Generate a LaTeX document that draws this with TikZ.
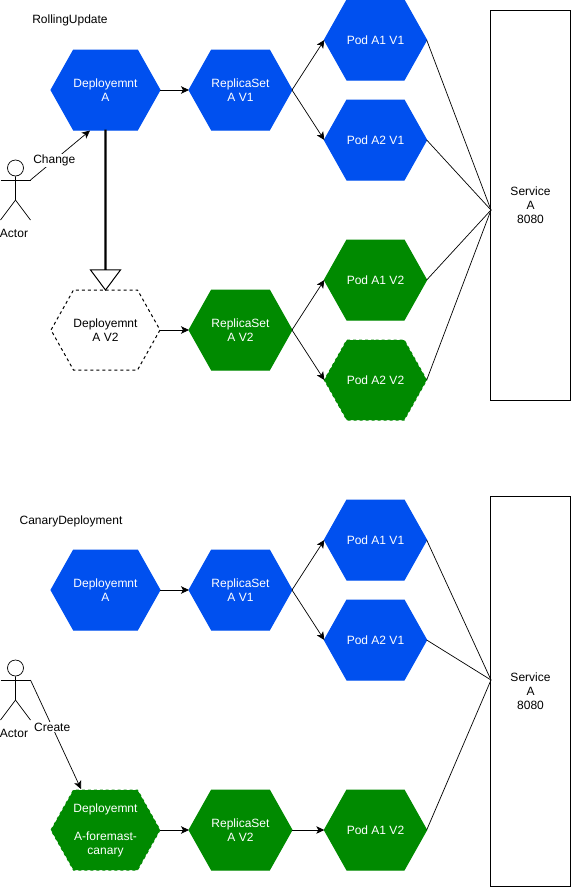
\documentclass[tikz,border=0pt]{standalone}
\usepackage{fontspec}
\setmainfont{Liberation Sans}
\usetikzlibrary{shapes.symbols,shapes.arrows,arrows.meta,calc}
\definecolor{hexblue}{HTML}{0050EF}
\definecolor{hexgreen}{HTML}{008A00}

\begin{document}
\begin{tikzpicture}[x=1pt,y=-1pt,every node/.style={font=\fontsize{12}{14}\selectfont,align=center},
hexnode/.style={signal,signal to=west and east,signal pointer angle=121.3,minimum width=90pt,minimum height=80pt,inner sep=0pt,outer sep=0pt,line width=1pt},
bluehex/.style={hexnode,fill=hexblue,draw=hexblue,text=white},
greenhex/.style={hexnode,fill=hexgreen,draw=hexgreen,text=white},
greendash/.style={greenhex,dashed},
plainhex/.style={hexnode,draw=black,fill=white,dashed},
service/.style={draw=black,line width=1pt,minimum width=80pt,inner sep=0pt,outer sep=0pt},
link/.style={draw=black,line width=0.7pt},
flow/.style={link,-{Stealth[length=8pt,width=7.5pt,inset=2pt]}},
caption/.style={fill=white,inner sep=1pt},
bigarrow/.style={single arrow,draw=black,fill=white,line width=1pt,minimum width=30pt,minimum height=160pt,inner sep=0pt,outer sep=0pt,single arrow head extend=10pt,single arrow tip angle=73.7,single arrow head indent=0pt},
actor/.pic={
  \node[circle,draw=black,line width=0.7pt,minimum size=16pt,inner sep=0pt] (-head) at (0,0) {};
  \draw[link] (-head.south) -- (0,32) -- (-15,52);
  \draw[link] (0,32) -- (15,52);
  \draw[link] (-15,12) -- (15,12);
  \coordinate (-arm) at (15,12);
  \node (-label) at (-1.5,65) {Actor};
}]
\useasboundingbox (0,0) rectangle (571,887);
\node (titleA) at (70,20) {RollingUpdate};
\node[bluehex] (depA) at (105.5,90) {Deployemnt\\A};
\node[bluehex] (repA) at (240.5,90) {ReplicaSet\\A V1};
\node[bluehex] (podAa) at (375.5,40) {Pod A1 V1};
\node[bluehex] (podAb) at (375.5,140) {Pod A2 V1};
\node[plainhex] (depAb) at (105.5,330) {Deployemnt\\A V2};
\node[greenhex] (repAb) at (240.5,330) {ReplicaSet\\A V2};
\node[greenhex] (podAc) at (375.5,280) {Pod A1 V2};
\node[greendash] (podAd) at (375.5,380) {Pod A2 V2};
\node[service,minimum height=390pt] (svcA) at (530.5,205) {Service\\A\\8080};
\coordinate (joinA) at (491,210);
\pic (actA) at (15.5,168) {actor};
\node[bigarrow,rotate=-90,anchor=tail] (update) at (depA.south) {};
\coordinate (changeEnd) at ($(depA.south)+(-15.5,0.5)$);

\draw[flow] (depA.east) -- (repA.west);
\draw[flow] (repA.east) -- (podAa.west);
\draw[flow] (repA.east) -- (podAb.west);
\draw[flow] (depAb.east) -- (repAb.west);
\draw[flow] (repAb.east) -- (podAc.west);
\draw[flow] (repAb.east) -- (podAd.west);
\draw[link] (podAa.east) -- (joinA);
\draw[link] (podAb.east) -- (joinA);
\draw[link] (podAc.east) -- (joinA);
\draw[link] (podAd.east) -- (joinA);
\draw[flow] (actA-arm) -- node[caption,pos=0.4] (change) {Change} (changeEnd);

\node (titleB) at (71,521) {CanaryDeployment};
\node[bluehex] (depB) at (105.5,590) {Deployemnt\\A};
\node[bluehex] (repB) at (240.5,590) {ReplicaSet\\A V1};
\node[bluehex] (podBa) at (375.5,540) {Pod A1 V1};
\node[bluehex] (podBb) at (375.5,640) {Pod A2 V1};
\node[greendash] (depBb) at (105.5,830) {Deployemnt\\\mbox{}\\A-foremast-\\canary};
\node[greenhex] (repBb) at (240.5,830) {ReplicaSet\\A V2};
\node[greenhex] (podBc) at (375.5,830) {Pod A1 V2};
\node[service,minimum height=390pt] (svcB) at (530.5,691) {Service\\A\\8080};
\coordinate (joinB) at (491,680);
\pic (actB) at (15.5,668) {actor};
\coordinate (createEnd) at ($(depBb.north)+(-24.5,-1)$);

\draw[flow] (depB.east) -- (repB.west);
\draw[flow] (repB.east) -- (podBa.west);
\draw[flow] (repB.east) -- (podBb.west);
\draw[flow] (depBb.east) -- (repBb.west);
\draw[flow] (repBb.east) -- (podBc.west);
\draw[link] (podBa.east) -- (joinB);
\draw[link] (podBb.east) -- (joinB);
\draw[link] (podBc.east) -- (joinB);
\draw[flow] (actB-arm) -- node[caption,pos=0.43] (create) {Create} (createEnd);
\end{tikzpicture}
\end{document}
